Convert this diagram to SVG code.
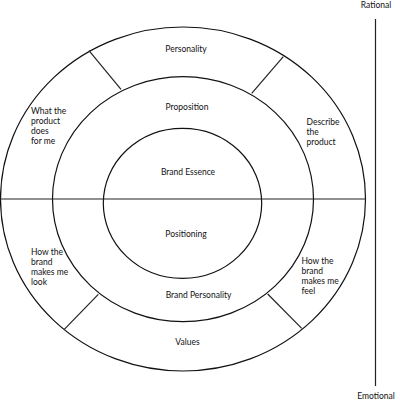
<svg xmlns="http://www.w3.org/2000/svg" width="400" height="403" viewBox="0 0 400 403">
<style>
.ring{fill:none;stroke:#111;stroke-width:1.2}
.ln{stroke:#222;stroke-width:1.2;fill:none}
text{font-family:Lato,"Open Sans","Liberation Sans",sans-serif;font-size:8.5px;fill:#111}
.c{text-anchor:middle}
</style>
<rect width="400" height="403" fill="#fff"/>
<g id="rings">
<ellipse id="outer" class="ring" cx="183" cy="199" rx="182.5" ry="172"/>
<ellipse id="middle" class="ring" cx="183" cy="199.2" rx="130.5" ry="122.5"/>
<ellipse id="inner" class="ring" cx="182.5" cy="203.3" rx="79.2" ry="75"/>
</g>
<g id="connectors">
<line class="ln" x1="0" y1="199" x2="366" y2="199"/>
<line class="ln" x1="89" y1="50.7" x2="121" y2="89.3"/>
<line class="ln" x1="283.3" y1="56.7" x2="251.7" y2="93.3"/>
<line class="ln" x1="98.3" y1="294.3" x2="64.3" y2="329.3"/>
<line class="ln" x1="267.7" y1="294" x2="301.7" y2="328.3"/>
<line class="ln" x1="375.5" y1="19" x2="375.5" y2="386"/>
</g>
<g id="personality"><text class="c" x="186" y="51.5">Personality</text></g>
<g id="proposition"><text class="c" x="187" y="110">Proposition</text></g>
<g id="brand-essence"><text class="c" x="188" y="175">Brand Essence</text></g>
<g id="positioning"><text class="c" x="186" y="237">Positioning</text></g>
<g id="brand-personality"><text class="c" x="198.5" y="298">Brand Personality</text></g>
<g id="values"><text class="c" x="187.5" y="345">Values</text></g>
<g id="what-product-does"><text x="31" y="114">What the</text><text x="31" y="124">product</text><text x="31" y="134">does</text><text x="31" y="144">for me</text></g>
<g id="describe-product"><text x="306.5" y="124.5">Describe</text><text x="306.5" y="134.5">the</text><text x="306.5" y="144.5">product</text></g>
<g id="makes-me-look"><text x="31" y="255">How the</text><text x="31" y="265">brand</text><text x="31" y="275">makes me</text><text x="31" y="285">look</text></g>
<g id="makes-me-feel"><text x="301.5" y="264">How the</text><text x="301.5" y="274">brand</text><text x="301.5" y="284">makes me</text><text x="301.5" y="294">feel</text></g>
<g id="rational"><text class="c" x="376" y="8">Rational</text></g>
<g id="emotional"><text class="c" x="376" y="399">Emotional</text></g>
</svg>
